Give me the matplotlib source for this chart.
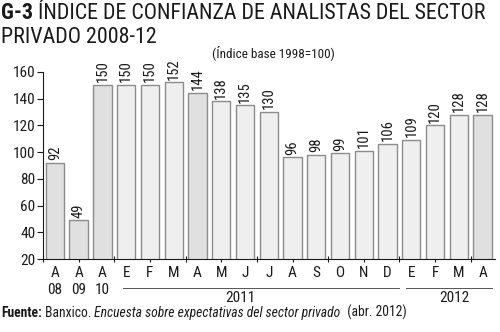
import matplotlib
matplotlib.use("Agg")
import matplotlib.pyplot as plt
from matplotlib import font_manager as fm
import numpy as np

# ---- data ----
months = ['A', 'A', 'A', 'E', 'F', 'M', 'A', 'M', 'J', 'J', 'A', 'S', 'O', 'N', 'D', 'E', 'F', 'M', 'A']
values = [92, 49, 150, 150, 150, 152, 144, 138, 135, 130, 96, 98, 99, 101, 106, 109, 120, 128, 128]
early_years = ['08', '09', '10']
year_groups = ['2011', '2012']
year_spans = [(3, 14), (15, 18)]
april_idx = [0, 1, 2, 6, 18]
yticks = [20, 40, 60, 80, 100, 120, 140, 160]

names = {f.name for f in fm.fontManager.ttflist}
FONT = next((n for n in ['Roboto Condensed', 'Archivo Narrow', 'PT Sans Narrow', 'Liberation Sans']
             if n in names), 'DejaVu Sans')
plt.rcParams['font.family'] = [FONT, 'DejaVu Sans']

TXT = '#1a1a1a'
fig = plt.figure(figsize=(5.0, 3.32), dpi=100)
ax = fig.add_axes([0.086, 0.219, 0.903, 0.565])

x = np.arange(len(values))
colors = ['#e0e0e0' if i in april_idx else '#efefef' for i in x]
ax.bar(x, values, width=0.77, color=colors, edgecolor='#8c8c8c', linewidth=1.0, zorder=2)

for xi, v in zip(x, values):
    ax.text(xi, v + 2, str(v), rotation=90, ha='center', va='bottom',
            fontsize=10.5, color=TXT, clip_on=False)

ax.set_xlim(-0.5, len(values) - 0.5)
ax.set_ylim(20, 160)
ax.set_yticks(yticks)
ax.set_yticklabels([str(t) for t in yticks], fontsize=11, color=TXT)
ax.tick_params(axis='y', direction='out', length=4, width=0.8, pad=1.5, colors=TXT)
ax.set_xticks(np.arange(-0.5, len(values), 1.5))
ax.set_xticklabels([])
ax.tick_params(axis='x', direction='inout', length=4, width=0.8, colors=TXT)
for s in ['top', 'right']:
    ax.spines[s].set_visible(False)
for s in ['left', 'bottom']:
    ax.spines[s].set_color(TXT)
    ax.spines[s].set_linewidth(0.8)

tr = ax.get_xaxis_transform()
for xi, m in zip(x, months):
    ax.text(xi, -0.073, m, transform=tr, ha='center', va='center', fontsize=11, color=TXT)
for xi, y in zip(x[:3], early_years):
    ax.text(xi, -0.166, y, transform=tr, ha='center', va='center', fontsize=11, color=TXT)
line_pad = [(-0.13, 0.49), (-0.22, 0.4)]
label_shift = [-0.7, 0.3]
for (a, b), lab, (p0, p1), sh in zip(year_spans, year_groups, line_pad, label_shift):
    ax.plot([a + p0, b + p1], [-0.151, -0.151], transform=tr, color='#555555', lw=0.7, clip_on=False)
    ax.text((a + b) / 2 + sh, -0.208, lab, transform=tr, ha='center', va='center', fontsize=11, color=TXT)

# ---- title ----
fig.canvas.draw()
r = fig.canvas.get_renderer()
def seq(parts, x0, y0, size):
    xx = x0
    for txt, w, st in parts:
        t = fig.text(xx, y0, txt, fontsize=size, fontweight=w, fontstyle=st, va='baseline', ha='left', color=TXT)
        bb = t.get_window_extent(renderer=r)
        xx += bb.width / fig.bbox.width
    return xx

seq([('G-3', 'bold', 'normal'), (' ÍNDICE DE CONFIANZA DE ANALISTAS DEL SECTOR', 'normal', 'normal')], 0.002, 0.943, 15.8)
fig.text(0.002, 0.869, 'PRIVADO 2008-12', fontsize=15.8, va='baseline', ha='left', color=TXT)
fig.text(0.424, 0.828, '(Índice base 1998=100)', fontsize=9.5, va='baseline', ha='left', color=TXT)
seq([('Fuente:', 'bold', 'normal'), (' Banxico. ', 'normal', 'normal'),
     ('Encuesta sobre expectativas del sector privado', 'normal', 'italic'),
     ('  (abr. 2012)', 'normal', 'normal')], 0.002, 0.045, 9.8)

fig.savefig('out.png', dpi=100)
